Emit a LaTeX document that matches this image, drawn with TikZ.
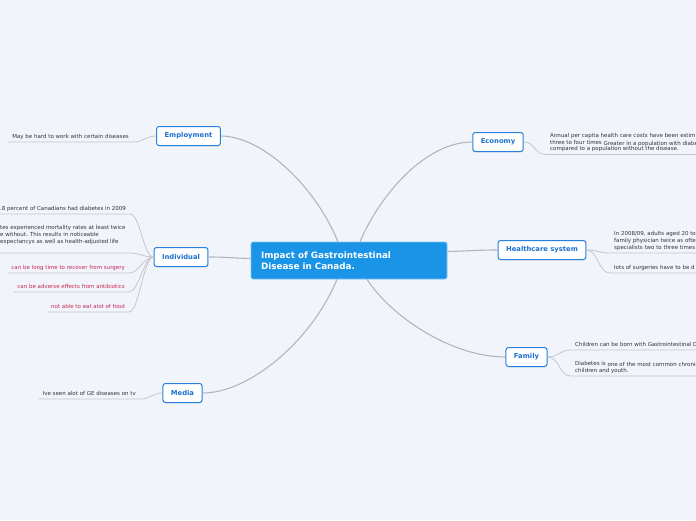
\documentclass[tikz,border=0pt]{standalone}
\usepackage{fontspec}
\setmainfont{DejaVu Sans}
\usetikzlibrary{shadows}
\definecolor{canvasbg}{RGB}{242,244,252}
\definecolor{rootblue}{RGB}{26,148,230}
\definecolor{topicblue}{RGB}{38,128,220}
\definecolor{topictext}{RGB}{28,112,208}
\definecolor{branchgray}{RGB}{178,181,192}
\definecolor{leafgray}{RGB}{196,198,206}
\definecolor{leaftext}{RGB}{51,51,51}
\definecolor{leafred}{RGB}{198,38,80}
\begin{document}
\begin{tikzpicture}[x=1pt, y=-1pt,
    root/.style={fill=rootblue, draw=rootblue!55!white, line width=0.6pt, rounded corners=2pt,
      text=white, font=\fontsize{8.8}{11}\selectfont\bfseries, align=left,
      text width=176pt, minimum width=196pt, minimum height=37pt, inner xsep=10pt},
    topic/.style={fill=white, draw=topicblue, line width=1pt, rounded corners=2.5pt,
      text=topictext, font=\fontsize{6.8}{8}\selectfont\bfseries, minimum height=19pt,
      inner xsep=8pt, drop shadow={shadow xshift=0.3pt, shadow yshift=-0.8pt, opacity=0.2}},
    leaf/.style={text=leaftext, font=\fontsize{5.5}{6.8}\selectfont, align=left,
      inner xsep=4pt, inner ysep=2.2pt, text depth=1.2pt},
    leafred/.style={leaf, text=leafred},
    branch/.style={draw=branchgray, line width=1.1pt},
    twig/.style={draw=leafgray, line width=0.8pt}]
    % Canvas
    \useasboundingbox (0,0) rectangle (696,520);
    \clip (0,0) rectangle (696,520);
    \fill[canvasbg] (0,0) rectangle (696,520);

    % Central topic
    \node[root] (root) at (349,260.5) {Impact of Gastrointestinal\\Disease in Canada.};

    % Left topics
    \node[topic] (emp) at (188.5,136) {Employment};
    \node[topic] (ind) at (181,257) {Individual};
    \node[topic] (med) at (182.5,393) {Media};
    % Right topics
    \node[topic] (eco) at (498,142) {Economy};
    \node[topic] (hc) at (542,250) {Healthcare system};
    \node[topic] (fam) at (526.5,357) {Family};

    % Leaves: left side
    \node[leaf, anchor=south east] (empA) at (133,142) {May be hard to work with certain diseases};
    \node[leaf, anchor=south west] (indA) at (-4,214) {.8 percent of Canadians had diabetes in 2009};
    \node[leaf, anchor=south west, text depth=7.5pt] (indB) at (-4,253) {tes experienced mortality rates at least twice\\e without. This results in noticeable\\expectancys as well as health-adjusted life};
    \node[leafred, anchor=south east] (indC) at (129,273) {can be long time to recover from surgery};
    \node[leafred, anchor=south east] (indD) at (129,292) {can be adverse effects from antibiotics};
    \node[leafred, anchor=south east] (indE) at (129,312) {not able to eat alot of food};
    \node[leaf, anchor=south east] (medA) at (140,399) {Ive seen alot of GE diseases on tv};

    % Leaves: right side
    \node[leaf, anchor=south west] (ecoA) at (546,154.5) {Annual per capita health care costs have been estim\\three to four times \raisebox{-1.2pt}{Greater in a population with diabe}\\compared to a population without the disease.};
    \node[leaf, anchor=south west] (hcA) at (610,253) {In 2008/09, adults aged 20 to\\family physician twice as ofte\\specialists two to three times};
    \node[leaf, anchor=south west] (hcB) at (610,273) {lots of surgeries have to be d};
    \node[leaf, anchor=south west] (famA) at (571,350) {Children can be born with Gastrointestinal D};
    \node[leaf, anchor=south west] (famB) at (571,376) {Diabetes is \raisebox{-1pt}{one of the most common chronic}\\children and youth.};

    % Main branches
    \draw[branch] ([xshift=-11pt]root.north) .. controls (313,182) and (260,136) .. (emp.east);
    \draw[branch] ([yshift=2pt]root.west) .. controls (232,258) and (226,257) .. (ind.east);
    \draw[branch] ([xshift=-12pt]root.south) .. controls (312,340) and (250,393) .. (med.east);
    \draw[branch] ([xshift=11pt]root.north) .. controls (380,195) and (425,142) .. (eco.west);
    \draw[branch] ([yshift=9pt]root.east) .. controls (468,251) and (476,250) .. (hc.west);
    \draw[branch] ([xshift=18pt]root.south) .. controls (390,315) and (450,357) .. (fam.west);

    % Twigs and underlines
    \draw[twig] (emp.west) .. controls +(-10,0) and +(10,0) .. (empA.south east) -- (empA.south west);
    \draw[twig] (ind.west) .. controls +(-10,0) and +(10,0) .. (indA.south east) -- (indA.south west);
    \draw[twig] (ind.west) .. controls +(-10,0) and +(10,0) .. (indB.south east) -- (indB.south west);
    \draw[twig] (ind.west) .. controls +(-10,0) and +(10,0) .. (indC.south east) -- (indC.south west);
    \draw[twig] (ind.west) .. controls +(-10,0) and +(10,0) .. (indD.south east) -- (indD.south west);
    \draw[twig] (ind.west) .. controls +(-10,0) and +(10,0) .. (indE.south east) -- (indE.south west);
    \draw[twig] (med.west) .. controls +(-10,0) and +(10,0) .. (medA.south east) -- (medA.south west);
    \draw[twig] (eco.east) .. controls +(12,0) and +(-12,0) .. (ecoA.south west) -- (ecoA.south east);
    \draw[twig] (hc.east) .. controls +(12,0) and +(-12,0) .. (hcA.south west) -- (hcA.south east);
    \draw[twig] (hc.east) .. controls +(12,0) and +(-12,0) .. (hcB.south west) -- (hcB.south east);
    \draw[twig] (fam.east) .. controls +(12,0) and +(-12,0) .. (famA.south west) -- (famA.south east);
    \draw[twig] (fam.east) .. controls +(12,0) and +(-12,0) .. (famB.south west) -- (famB.south east);
\end{tikzpicture}
\end{document}
